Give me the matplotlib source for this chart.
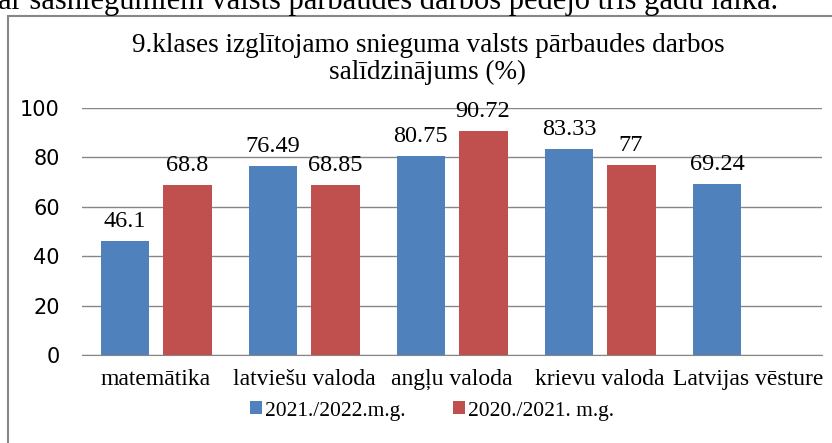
import matplotlib.pyplot as plt
from matplotlib.patches import Rectangle
import numpy as np

categories = ['matemātika', 'latviešu valoda', 'angļu valoda', 'krievu valoda', 'Latvijas vēsture']
y2022 = [46.1, 76.49, 80.75, 83.33, 69.24]
y2021 = [68.8, 68.85, 90.72, 77, None]
lab2022 = ['46.1', '76.49', '80.75', '83.33', '69.24']
lab2021 = ['68.8', '68.85', '90.72', '77', '']
series_names = ['2021./2022.m.g.', '2020./2021. m.g.']

blue = '#4F81BD'
red = '#C0504D'
grid = '#868686'
serif = 'Liberation Serif'

fig = plt.figure(figsize=(8.32, 4.43), dpi=100)
W, H = 832, 443

# clipped line of document text above the chart
fig.text(-2 / W, 1 - 9 / H, 'ar sasniegumiem valsts pārbaudes darbos pēdējo trīs gadu laikā.',
         family=serif, fontsize=22, va='baseline', ha='left')

# chart border
fig.patches.append(Rectangle((8 / W, -0.2), 1.0, 1.2 - 16 / H, transform=fig.transFigure,
                             fill=False, edgecolor=grid, linewidth=1.5))

fig.text(428 / W, 1 - 59 / H, '9.klases izglītojamo snieguma valsts pārbaudes darbos\nsalīdzinājums (%)',
         family=serif, fontsize=19.5, ha='center', va='center', linespacing=1.12)

ax = fig.add_axes([82 / W, 1 - 355 / H, 740 / W, 247 / H])
x = np.arange(len(categories))
w = 0.33
off = 0.21

v21 = [v if v is not None else 0 for v in y2021]
b1 = ax.bar(x - off, y2022, w, color=blue, label=series_names[0], zorder=3)
b2 = ax.bar(x + off, v21, w, color=red, label=series_names[1], zorder=3)

for xi, v, t in zip(x - off, y2022, lab2022):
    ax.annotate(t, (xi, v), xytext=(0, 14), textcoords='offset points', ha='center', va='center',
                family=serif, fontsize=17.5)
for xi, v, t in zip(x + off, v21, lab2021):
    if t:
        ax.annotate(t, (xi, v), xytext=(0, 14), textcoords='offset points', ha='center', va='center',
                    family=serif, fontsize=17.5)

ax.set_xlim(-0.5, 4.5)
ax.set_ylim(0, 100)
ax.set_yticks(range(0, 101, 20))
ax.yaxis.grid(True, color=grid, linewidth=1)
ax.set_axisbelow(True)
for s in ['top', 'right', 'left']:
    ax.spines[s].set_visible(False)
ax.spines['bottom'].set_color(grid)
ax.tick_params(axis='both', length=0)
ax.tick_params(axis='y', labelsize=15, pad=16)
ax.set_xticks(x)
ax.set_xticklabels(categories, family=serif, fontsize=17)
ax.tick_params(axis='x', pad=10)

fig.legend(handles=[b1, b2], labels=series_names, loc='center', bbox_to_anchor=(432 / W, 1 - 411 / H),
           ncol=2, frameon=False, prop={'family': serif, 'size': 15.5}, handlelength=0.55, handleheight=0.55,
           handletextpad=0.15, columnspacing=2.2)

fig.savefig('out.png', dpi=100)
